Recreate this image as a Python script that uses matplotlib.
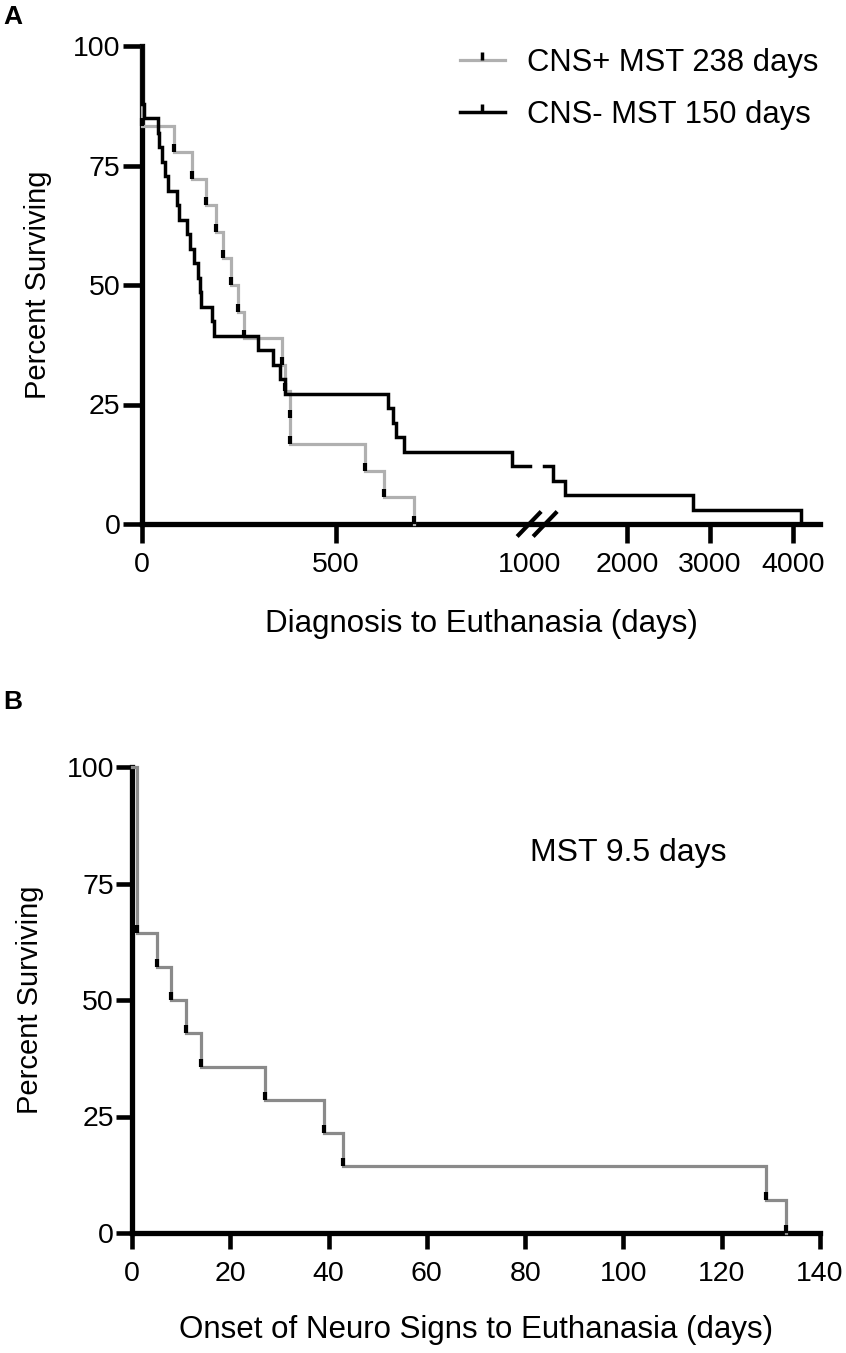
import numpy as np
import matplotlib
matplotlib.use("Agg")
import matplotlib.pyplot as plt
from matplotlib.lines import Line2D

plt.rcParams['font.family'] = ['Liberation Sans', 'DejaVu Sans']

# Panel A: days from diagnosis to euthanasia (every subject died)
cns_pos_days = [1, 1, 1, 82, 130, 165, 192, 208, 229, 247, 263, 362, 368, 381, 382, 576, 624, 701]
cns_neg_days = [0, 0, 0, 0, 5, 40, 45, 51, 59, 68, 91, 95, 117, 125, 135, 145, 150, 153, 180, 185,
                299, 338, 356, 368, 635, 647, 656, 675, 954, 1101, 1250, 2792, 4100]
cns_pos_label = "CNS+ MST 238 days"
cns_neg_label = "CNS- MST 150 days"

# Panel B: onset of neuro signs to euthanasia
neuro_days = [1, 1, 1, 1, 1, 5, 8, 11, 14, 27, 39, 43, 129, 133]
neuro_note = "MST 9.5 days"

a_xticks = [0, 500, 1000, 2000, 3000, 4000]
b_xticks = [0, 20, 40, 60, 80, 100, 120, 140]
yticks = [0, 25, 50, 75, 100]

# broken x axis for panel A: linear to 1000, compressed after, small gap between
BREAK = 1000
GAP = 37
RATIO = 0.2134


def fwd(x):
    x = np.asarray(x, float)
    return np.where(x <= BREAK, x, BREAK + GAP + (x - BREAK) * RATIO)


def inv(y):
    y = np.asarray(y, float)
    return np.where(y <= BREAK, y,
                    np.where(y < BREAK + GAP, BREAK, BREAK + (y - BREAK - GAP) / RATIO))


def km_steps(days):
    days = np.sort(np.asarray(days, float))
    n = len(days)
    xs, ys = [0.0], [100.0]
    drop_x, drop_y = [], []
    alive = n
    for t in np.unique(days):
        prev = 100.0 * alive / n
        alive -= np.sum(days == t)
        new = 100.0 * alive / n
        xs += [t, t]
        ys += [prev, new]
        drop_x.append(t)
        drop_y.append(new)
    return np.array(xs), np.array(ys), np.array(drop_x), np.array(drop_y)


def split_at_break(xs, ys):
    ox, oy = [], []
    for i in range(len(xs)):
        if i > 0 and xs[i - 1] <= BREAK < xs[i]:
            ox += [BREAK, np.nan, BREAK + 1e-6]
            oy += [ys[i - 1], np.nan, ys[i - 1]]
        ox.append(xs[i])
        oy.append(ys[i])
    return np.array(ox), np.array(oy)


def style_axes(ax, ticklen, xpad):
    for s in ['top', 'right']:
        ax.spines[s].set_visible(False)
    for s in ['left', 'bottom']:
        ax.spines[s].set_linewidth(3.8)
    ax.tick_params(axis='both', length=ticklen, width=3.3, labelsize=20.5, color='black')
    ax.tick_params(axis='y', pad=1.5)
    ax.tick_params(axis='x', pad=xpad)
    ax.set_ylim(0, 100)
    ax.set_yticks(yticks)


fig = plt.figure(figsize=(8.46, 13.53), dpi=100)
W, H = 846, 1353

# ---------------- Panel A ----------------
axA = fig.add_axes([142 / W, (H - 524) / H, 678 / W, 478 / H])
axA.set_xscale('function', functions=(fwd, inv))
style_axes(axA, 14, 6)
axA.set_xlim(0, 4330)

gray_a = '#b0b0b0'
x, y, dx, dy = km_steps(cns_pos_days)
axA.plot(x, y, color=gray_a, lw=2.3, clip_on=False, zorder=3, solid_joinstyle='miter')
axA.plot(dx, dy, linestyle='none', marker=2, markersize=6, mew=3, color='black', zorder=4, clip_on=False)

x, y, dx, dy = km_steps(cns_neg_days)
x, y = split_at_break(x, y)
axA.plot(x, y, color='black', lw=2.5, clip_on=False, zorder=5, solid_joinstyle='miter')

axA.set_xticks(a_xticks)
axA.set_xticklabels([str(t) for t in a_xticks])
axA.xaxis.get_major_ticks()[a_xticks.index(1000)].tick1line.set_visible(False)

# break marks on the x axis
x0f, x1f = fwd(0), fwd(4330)
xc = (float(fwd(BREAK)) + GAP / 2 - x0f) / (x1f - x0f)
ddx, ddy = 12 / 678, 12.5 / 478
for off in (-8 / 678, 8 / 678):
    axA.plot([xc + off - ddx, xc + off + ddx], [-ddy, ddy], transform=axA.transAxes,
             color='black', lw=3, clip_on=False, zorder=6, solid_capstyle='butt')

axA.set_ylabel("Percent Surviving", fontsize=21, va='center')
axA.yaxis.set_label_coords((38 - 142) / 678, 0.5)
axA.set_xlabel("Diagnosis to Euthanasia (days)", fontsize=22.5, va='center')
axA.xaxis.set_label_coords(0.5, (524 - 624) / 478)

handles = [Line2D([], [], color=gray_a, lw=2.3, marker=2, markersize=6, mew=2.5, mec='black'),
           Line2D([], [], color='black', lw=2.5, marker=2, markersize=6, mew=2.5, mec='black')]
axA.legend(handles, [cns_pos_label, cns_neg_label], loc='upper left', frameon=False,
           bbox_to_anchor=(460 / W, (H - 48) / H), bbox_transform=fig.transFigure,
           fontsize=22.3, handlelength=1.45, handletextpad=0.7, labelspacing=0.72,
           numpoints=1, borderpad=0, borderaxespad=0)

# ---------------- Panel B ----------------
axB = fig.add_axes([132 / W, (H - 1233) / H, 688 / W, 466 / H])
style_axes(axB, 11.5, 8.5)
axB.set_xlim(0, 140)

x, y, dx, dy = km_steps(neuro_days)
axB.plot(x, y, color='#8a8a8a', lw=2.3, clip_on=False, zorder=3, solid_joinstyle='miter')
axB.plot(dx, dy, linestyle='none', marker=2, markersize=6, mew=3, color='black', zorder=4, clip_on=False)

axB.set_xticks(b_xticks)
axB.text(81, 81.5, neuro_note, fontsize=23, va='center', ha='left')

axB.set_ylabel("Percent Surviving", fontsize=21, va='center')
axB.yaxis.set_label_coords((30 - 132) / 688, 0.5)
axB.set_xlabel("Onset of Neuro Signs to Euthanasia (days)", fontsize=22.5, va='center')
axB.xaxis.set_label_coords(0.5, (1233 - 1330) / 466)

fig.text(3 / W, (H - 17) / H, "A", fontsize=19, fontweight='bold', va='center', ha='left')
fig.text(3 / W, (H - 702) / H, "B", fontsize=19, fontweight='bold', va='center', ha='left')

fig.savefig("out.png", dpi=100)
